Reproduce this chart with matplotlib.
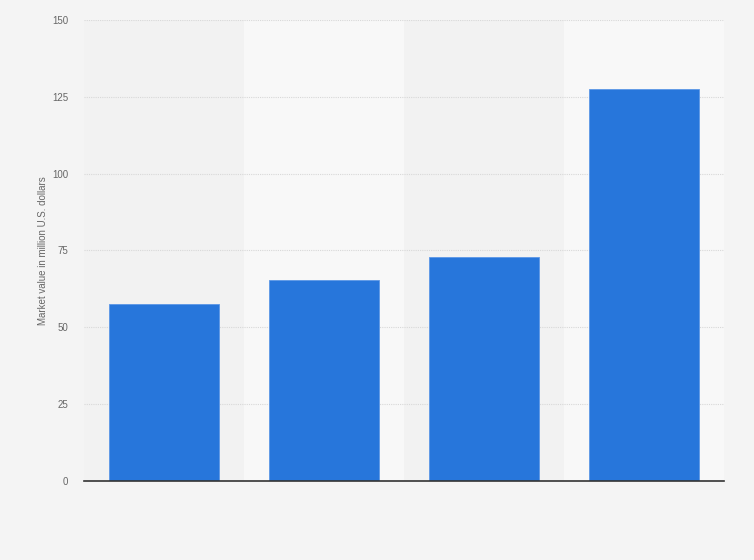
import matplotlib
matplotlib.use("Agg")
import matplotlib.pyplot as plt
import numpy as np

categories = ["", "", "", ""]
values = [57.5, 65.3, 72.8, 127.6]
yticks = [0, 25, 50, 75, 100, 125, 150]
ylabel = "Market value in million U.S. dollars"

fig = plt.figure(figsize=(7.54, 5.6), dpi=100)
fig.patch.set_facecolor("#f4f4f4")
ax = fig.add_axes([84/754, 79/560, 640/754, 461/560])
ax.set_facecolor("#f2f2f2")

x = np.arange(len(values))
for i in x:
    if i % 2 == 1:
        ax.axvspan(i - 0.5, i + 0.5, color="#f8f8f8", zorder=0, lw=0)

ax.bar(x, values, width=0.6875, color="#2776db", zorder=3, edgecolor="#5c97e6", linewidth=0.6)

ax.set_xlim(-0.5, len(values) - 0.5)
ax.set_ylim(0, 150)
ax.set_yticks(yticks)
ax.set_yticklabels([str(t) for t in yticks], fontsize=7, color="#666666", family="Liberation Sans")
ax.set_xticks(x)
ax.set_xticklabels(categories)
ax.tick_params(axis="both", length=0)
ax.tick_params(axis="y", pad=11.5)
ax.yaxis.grid(True, color="#d8d8d8", linestyle=(0, (1, 1)), linewidth=0.8, zorder=1)
ax.set_axisbelow(True)
for s in ["top", "right", "left"]:
    ax.spines[s].set_visible(False)
ax.spines["bottom"].set_color("#333333")
ax.spines["bottom"].set_linewidth(1.2)
ax.spines["bottom"].set_zorder(4)

ax.set_ylabel(ylabel, fontsize=7, color="#666666", family="Liberation Sans", labelpad=3)

fig.savefig("out.png", dpi=100, facecolor=fig.get_facecolor())
